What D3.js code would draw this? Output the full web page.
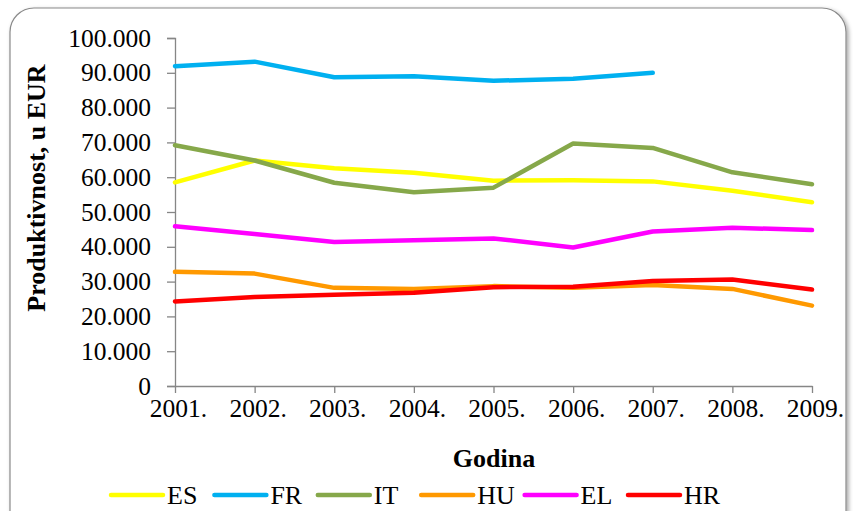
<!DOCTYPE html>
<html>
<head>
<meta charset="utf-8">
<script src="https://cdn.jsdelivr.net/npm/d3@7"></script>
<style>
  html, body { margin: 0; padding: 0; background: #fff; }
  svg { display: block; }
  text { font-family: "Liberation Serif", "Times New Roman", serif; fill: #000; }
</style>
</head>
<body>
<svg id="chart" width="853" height="511"></svg>
<script>
// Productivity per year, in thousands of EUR
const years = ["2001.", "2002.", "2003.", "2004.", "2005.", "2006.", "2007.", "2008.", "2009."];
const yTicks = [0, 10, 20, 30, 40, 50, 60, 70, 80, 90, 100];

const ES = [58.5, 64.8, 62.6, 61.3, 59.0, 59.1, 58.8, 56.1, 52.8];
const FR = [91.9, 93.2, 88.7, 89.0, 87.7, 88.3, 90.0, null, null];
const IT = [69.2, 64.8, 58.4, 55.7, 57.0, 69.7, 68.4, 61.4, 58.0];
const HU = [32.8, 32.3, 28.2, 27.9, 28.7, 28.2, 29.0, 27.9, 23.1];
const EL = [45.9, 43.7, 41.4, 41.9, 42.4, 39.8, 44.4, 45.5, 44.8];
const HR = [24.3, 25.6, 26.2, 26.8, 28.4, 28.5, 30.2, 30.6, 27.7];

const seriesNames = ["ES", "FR", "IT", "HU", "EL", "HR"];
const seriesValues = [ES, FR, IT, HU, EL, HR];
const seriesColors = ["#FFFF00", "#00B0F0", "#86A84A", "#FF9900", "#FF00FF", "#FF0000"];

const FONT = "'Liberation Serif', 'Times New Roman', serif";
const svg = d3.select("#chart");

// frame with soft shadow
const defs = svg.append("defs");
const f = defs.append("filter").attr("id", "shadow")
  .attr("x", "-5%").attr("y", "-5%").attr("width", "110%").attr("height", "110%");
f.append("feDropShadow").attr("dx", 2).attr("dy", 2).attr("stdDeviation", 2)
  .attr("flood-color", "#000").attr("flood-opacity", 0.35);

svg.append("rect")
  .attr("x", 10).attr("y", 8).attr("width", 836).attr("height", 530)
  .attr("rx", 24).attr("ry", 24)
  .attr("fill", "#fff").attr("stroke", "#8a8a8a").attr("stroke-width", 1.2)
  .attr("filter", "url(#shadow)");

const x = d3.scalePoint().domain(years).range([175, 812]);
const y = d3.scaleLinear().domain([0, 100]).range([386, 38]);

// y axis
const yAxis = svg.append("g").attr("transform", "translate(175,0)")
  .call(d3.axisLeft(y).tickValues(yTicks).tickSize(8).tickPadding(16)
    .tickFormat(v => v === 0 ? "0" : v + ".000"));
yAxis.select(".domain").attr("stroke", "#868686").attr("stroke-width", 1.3);
yAxis.selectAll(".tick line").attr("stroke", "#868686").attr("stroke-width", 1.3);
yAxis.selectAll(".tick text")
  .style("font-family", FONT).style("font-size", "25.5px").attr("fill", "#000");

// x axis
const xAxis = svg.append("g").attr("transform", "translate(0,386)")
  .call(d3.axisBottom(x).tickSize(7).tickSizeOuter(0).tickPadding(6));
xAxis.select(".domain").attr("stroke", "#868686").attr("stroke-width", 1.3);
xAxis.selectAll(".tick text")
  .style("font-family", FONT).style("font-size", "25.5px").attr("fill", "#000").attr("dx", "3");
xAxis.selectAll(".tick line").attr("stroke", "#868686").attr("stroke-width", 1.3);

// axis titles
svg.append("text")
  .attr("transform", "translate(45,188) rotate(-90)")
  .attr("text-anchor", "middle")
  .style("font-size", "26px").style("font-weight", "bold")
  .text("Produktivnost, u EUR");

svg.append("text")
  .attr("x", 494).attr("y", 467)
  .attr("text-anchor", "middle")
  .style("font-size", "26px").style("font-weight", "bold")
  .text("Godina");

// series lines
const line = d3.line()
  .defined(d => d != null)
  .x((d, i) => x(years[i]))
  .y(d => y(d));

seriesValues.forEach((vals, k) => {
  svg.append("path")
    .datum(vals)
    .attr("fill", "none")
    .attr("stroke", seriesColors[k])
    .attr("stroke-width", 4.5)
    .attr("stroke-linejoin", "round")
    .attr("stroke-linecap", "round")
    .attr("d", line);
});

// legend
const legendX = d3.scalePoint().domain(seriesNames).range([111, 628]);
const lg = svg.append("g").selectAll("g").data(seriesNames).join("g")
  .attr("transform", d => `translate(${legendX(d)},495)`);
lg.append("line")
  .attr("x1", 0).attr("x2", 52).attr("y1", 0).attr("y2", 0)
  .attr("stroke", (d, i) => seriesColors[i]).attr("stroke-width", 4.5)
  .attr("stroke-linecap", "round");
lg.append("text")
  .attr("x", 56).attr("y", 9)
  .style("font-size", "26px")
  .text(d => d);
</script>
</body>
</html>
